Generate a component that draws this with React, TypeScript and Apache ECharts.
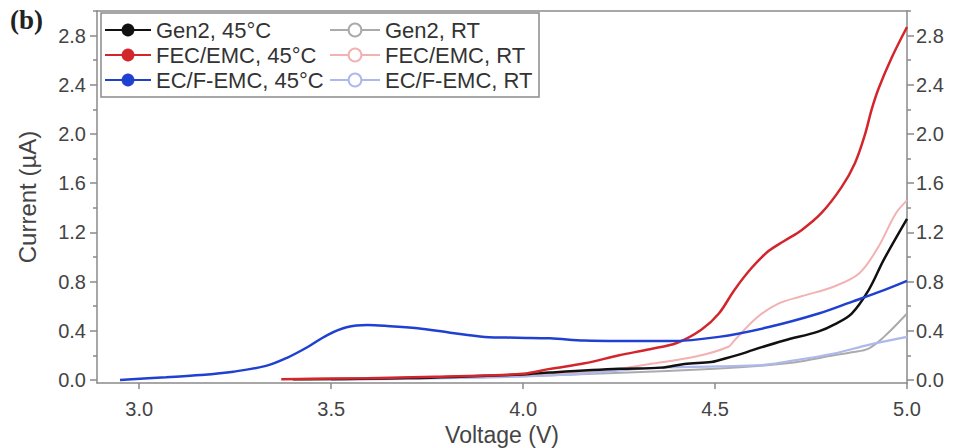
import React, { useEffect, useRef } from "react";
import * as echarts from "echarts";

// Voltage (V) / current (µA) sweeps, 45 °C
const gen2HotV = [3.4, 3.7, 4.0, 4.07, 4.25, 4.36, 4.42, 4.49, 4.51, 4.577, 4.595, 4.68, 4.77, 4.81, 4.856, 4.9, 4.94, 5.0];
const gen2HotI = [0.005, 0.015, 0.045, 0.06, 0.09, 0.1, 0.13, 0.145, 0.16, 0.22, 0.24, 0.32, 0.395, 0.45, 0.54, 0.73, 0.98, 1.31];

const fecHotV = [3.37, 3.45, 3.595, 3.77, 3.9, 4.0, 4.07, 4.16, 4.25, 4.33, 4.4, 4.465, 4.51, 4.55, 4.595, 4.64, 4.68, 4.726, 4.778, 4.83, 4.864, 4.89, 4.908, 4.926, 4.96, 5.0];
const fecHotI = [0.005, 0.01, 0.014, 0.025, 0.035, 0.05, 0.09, 0.135, 0.2, 0.25, 0.3, 0.41, 0.54, 0.73, 0.91, 1.05, 1.13, 1.22, 1.36, 1.57, 1.76, 1.99, 2.2, 2.37, 2.62, 2.87];

const ecfHotV = [2.95, 3.07, 3.16, 3.245, 3.33, 3.385, 3.44, 3.49, 3.54, 3.595, 3.64, 3.725, 3.81, 3.9, 3.985, 4.07, 4.16, 4.25, 4.38, 4.51, 4.64, 4.77, 4.856, 4.94, 5.0];
const ecfHotI = [0.0, 0.022, 0.04, 0.067, 0.114, 0.18, 0.27, 0.365, 0.428, 0.446, 0.44, 0.42, 0.384, 0.35, 0.343, 0.338, 0.32, 0.316, 0.316, 0.35, 0.43, 0.54, 0.635, 0.73, 0.805];

// Room temperature sweeps
const gen2RtV = [3.5, 4.0, 4.5, 4.7, 4.81, 4.856, 4.9, 4.94, 5.0];
const gen2RtI = [0.003, 0.03, 0.09, 0.14, 0.2, 0.225, 0.255, 0.35, 0.54];

const fecRtV = [3.5, 3.7, 4.0, 4.2, 4.33, 4.45, 4.535, 4.55, 4.61, 4.665, 4.725, 4.81, 4.875, 4.925, 4.97, 5.0];
const fecRtI = [0.005, 0.012, 0.04, 0.07, 0.13, 0.19, 0.27, 0.32, 0.51, 0.62, 0.68, 0.76, 0.865, 1.08, 1.35, 1.46];

const ecfRtV = [3.5, 3.8, 4.1, 4.33, 4.51, 4.62, 4.68, 4.81, 4.9, 5.0];
const ecfRtI = [0.003, 0.015, 0.04, 0.095, 0.11, 0.12, 0.145, 0.215, 0.285, 0.35];

const xTicks = [3.0, 3.5, 4.0, 4.5, 5.0];
const yTicks = [0, 0.4, 0.8, 1.2, 1.6, 2.0, 2.4, 2.8];
const yMinorTicks = [0.2, 0.6, 1.0, 1.4, 1.8, 2.2, 2.6, 3.0];

const hotNames = ["Gen2, 45°C", "FEC/EMC, 45°C", "EC/F-EMC, 45°C"];
const rtNames = ["Gen2, RT", "FEC/EMC, RT", "EC/F-EMC, RT"];

const zip = (xs: number[], ys: number[]) => xs.map((x, i) => [x, ys[i]]);

const AXIS_COLOR = "#8a8a8a";
const TEXT_COLOR = "#444";
const FONT = "Liberation Sans";

export default function App() {
  const ref = useRef<HTMLDivElement>(null);

  useEffect(() => {
    if (!ref.current) return;
    const chart = echarts.init(ref.current, null, { renderer: "svg" });

    const yMin = -0.025;
    const yMax = 3.0;
    const xMin = 2.89;
    const xMax = 5.0;

    const mkY = (position: "left" | "right", major: boolean) => ({
      type: "value",
      position,
      min: yMin,
      max: yMax,
      axisLine: major ? { show: true, onZero: false, lineStyle: { color: AXIS_COLOR, width: 1.5 } } : { show: false },
      axisTick: {
        show: true,
        inside: false,
        length: major ? 7 : 4,
        customValues: major ? yTicks : yMinorTicks,
        lineStyle: { color: AXIS_COLOR, width: 1.5 },
      },
      axisLabel: major
        ? {
            show: true,
            customValues: yTicks,
            formatter: (v: number) => v.toFixed(1),
            color: TEXT_COLOR,
            fontSize: 20,
            fontFamily: FONT,
            margin: position === "left" ? 11 : 9,
          }
        : { show: false },
      splitLine: { show: false },
    });

    const line = (name: string, v: number[], i: number[], color: string, width: number, symbol: string, z: number) => ({
      name,
      type: "line",
      data: zip(v, i),
      xAxisIndex: 0,
      yAxisIndex: 0,
      smooth: 0.35,
      showSymbol: false,
      symbol,
      symbolSize: 12,
      color,
      lineStyle: { color, width },
      itemStyle: { color },
      z,
    });

    const legendBase = {
      orient: "vertical",
      top: 18,
      padding: 0,
      itemGap: 1,
      itemHeight: 16,
      selectedMode: false,
      z: 10,
      textStyle: { color: "#333", fontSize: 22, fontFamily: FONT, lineHeight: 24 },
    };

    chart.setOption({
      animation: false,
      backgroundColor: "#fff",
      grid: { left: 97, right: 48, top: 11, bottom: 65, containLabel: false, outerBoundsMode: "none" },
      xAxis: [
        {
          type: "value",
          min: xMin,
          max: xMax,
          name: "Voltage (V)",
          nameLocation: "middle",
          nameGap: 37,
          nameTextStyle: { color: TEXT_COLOR, fontSize: 23, fontFamily: FONT },
          axisLine: { show: true, onZero: false, lineStyle: { color: AXIS_COLOR, width: 1.5 } },
          axisTick: { show: true, length: 6, customValues: xTicks, lineStyle: { color: AXIS_COLOR, width: 1.5 } },
          axisLabel: {
            show: true,
            customValues: xTicks,
            formatter: (v: number) => v.toFixed(1),
            color: TEXT_COLOR,
            fontSize: 20,
            fontFamily: FONT,
            margin: 16,
          },
          splitLine: { show: false },
        },
        {
          type: "value",
          position: "top",
          min: xMin,
          max: xMax,
          axisLine: { show: true, onZero: false, lineStyle: { color: AXIS_COLOR, width: 1.5 } },
          axisTick: { show: false },
          axisLabel: { show: false },
          splitLine: { show: false },
        },
      ],
      yAxis: [
        {
          ...mkY("left", true),
          name: "Current (µA)",
          nameLocation: "middle",
          nameGap: 58,
          nameRotate: 90,
          nameTextStyle: { color: TEXT_COLOR, fontSize: 24, fontFamily: FONT },
        },
        mkY("left", false),
        mkY("right", true),
        mkY("right", false),
      ],
      legend: [
        { ...legendBase, left: 104, itemWidth: 46, data: hotNames },
        { ...legendBase, left: 329, itemWidth: 50, data: rtNames },
      ],
      graphic: [
        {
          type: "rect",
          z: 1,
          shape: { x: 101, y: 13, width: 438, height: 84 },
          style: { fill: "#fff", stroke: AXIS_COLOR, lineWidth: 1.5 },
        },
        {
          type: "text",
          x: 10,
          y: 6,
          style: { text: "(b)", font: "bold 27px 'Liberation Serif'", fill: "#222" },
        },
      ],
      series: [
        line(rtNames[0], gen2RtV, gen2RtI, "#ababab", 2, "emptyCircle", 2),
        line(rtNames[1], fecRtV, fecRtI, "#f2b2b2", 2, "emptyCircle", 2),
        line(rtNames[2], ecfRtV, ecfRtI, "#adb8ec", 2.2, "emptyCircle", 2),
        line(hotNames[0], gen2HotV, gen2HotI, "#111111", 2.5, "circle", 3),
        line(hotNames[1], fecHotV, fecHotI, "#d2262c", 2.5, "circle", 3),
        line(hotNames[2], ecfHotV, ecfHotI, "#2040d2", 2.5, "circle", 3),
      ],
    });

    return () => chart.dispose();
  }, []);

  return <div ref={ref} style={{ position: "fixed", left: 0, top: 0, width: 955, height: 448 }} />;
}
